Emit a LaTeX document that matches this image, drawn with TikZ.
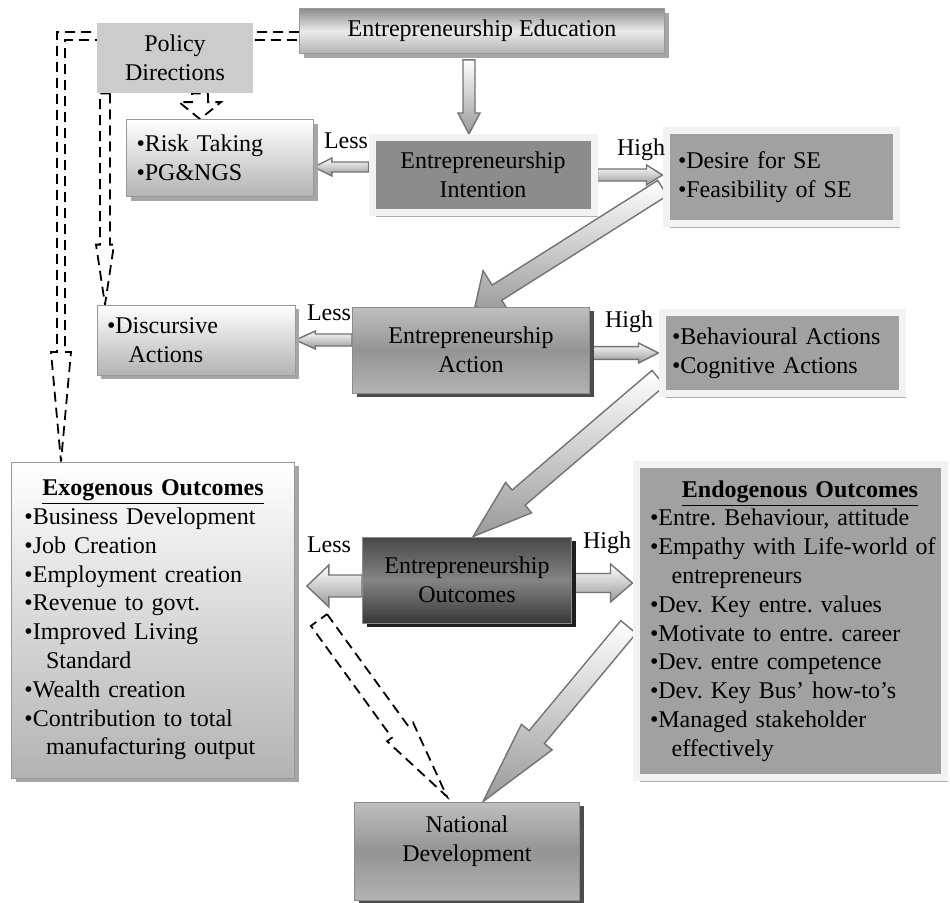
\documentclass[tikz,border=0pt]{standalone}
\usepackage{fontspec}
\setmainfont{Liberation Serif}
\usetikzlibrary{calc,shadows,backgrounds}
\frenchspacing

% block arrow: [style]{from}{to}{shaft half width}{head half width}{head length}
\newcommand\blockarrow[6][]{%
  \coordinate (ba-h) at ($(#3)!#6!(#2)$);
  \path[#1] ($(#2)!#4!90:(#3)$) -- ($(ba-h)!#4!90:(#3)$) -- ($(ba-h)!#5!90:(#3)$)
    -- (#3) -- ($(ba-h)!#5!-90:(#3)$) -- ($(ba-h)!#4!-90:(#3)$) -- ($(#2)!#4!-90:(#3)$) -- cycle;
}

\begin{document}
\begin{tikzpicture}[
        x=0.5pt, y=-0.5pt,
        font=\fontsize{12}{14.4}\selectfont,
        boxshadow/.style={drop shadow={shadow xshift=2pt, shadow yshift=-2pt, fill=black!#1, opacity=1}},
        lightbox/.style={rectangle, draw=black!40, top color=white, bottom color=black!30, boxshadow=35, align=left},
        framebox/.style={rectangle, draw=black!5, line width=3.5pt, fill=black!37, boxshadow=30},
        midbox/.style={rectangle, draw=black!45, top color=black!25, bottom color=black!30, middle color=black!42, boxshadow=70, align=center},
        darkbox/.style={rectangle, draw=black!45, top color=black!72, bottom color=black!78, middle color=black!48, boxshadow=88, align=center},
        edubox/.style={rectangle, draw=black!40, top color=black!45, bottom color=black!30, middle color=black!8, boxshadow=35},
        grayarrow/.style={draw=black!55, line width=0.7pt, top color=white, bottom color=black!40},
        darrow/.style={draw, line width=0.9pt, dash pattern=on 5pt off 3pt}
    ]
        \useasboundingbox (0,0) rectangle (950,902);

        % Top row
        \node[edubox, minimum width=182.5pt, minimum height=22.5pt] (edu) at (482,31) {Entrepreneurship Education};
        \node[fill=black!20, minimum width=78pt, minimum height=35pt, align=center] (policy) at (175,58) {Policy\\Directions};

        % Intention row
        \node[lightbox, minimum height=38.5pt, text width=83.5pt, inner xsep=5pt] (risk) at (220,158) {\textbullet Risk Taking\\\textbullet PG\&NGS};
        \node[framebox, fill=black!45, minimum width=111pt, minimum height=37.5pt, align=center] (intent) at (483,175) {Entrepreneurship\\Intention};
        \node[framebox, minimum height=46.5pt, text width=103pt, inner xsep=6pt, align=left] (desire) at (781,177) {\textbullet Desire for SE\\\textbullet Feasibility of SE};

        % Action row
        \node[lightbox, minimum height=35pt, text width=89pt, inner xsep=5pt] (disc) at (196,340) {\textbullet Discursive\\\hspace*{0.9em}Actions};
        \node[midbox, minimum width=118.5pt, minimum height=43pt] (action) at (471,350) {Entrepreneurship\\Action};
        \node[framebox, minimum height=40.5pt, text width=110pt, inner xsep=5pt, align=left] (behav) at (782,353) {\textbullet Behavioural Actions\\\textbullet Cognitive Actions};

        % Outcomes row
        \node[lightbox, minimum height=158pt, text width=128.5pt, inner xsep=6.5pt] (exo) at (153,620) {%
            \centerline{\underline{\textbf{Exogenous Outcomes}}}
            \textbullet Business Development\\
            \textbullet Job Creation\\
            \textbullet Employment creation\\
            \textbullet Revenue to govt.\\
            \textbullet Improved Living\\
            \hspace*{0.9em}Standard\\
            \textbullet Wealth creation\\
            \textbullet Contribution to total\\
            \hspace*{0.9em}manufacturing output};
        \node[darkbox, minimum width=104.5pt, minimum height=43pt] (outc) at (467,580) {Entrepreneurship\\Outcomes};
        \node[framebox, minimum height=156.5pt, text width=150pt, inner xsep=2pt, align=left] (endo) at (790,621) {%
            \centerline{\underline{\textbf{Endogenous Outcomes}}}
            \leftskip=5pt
            \textbullet Entre. Behaviour, attitude\\
            \textbullet Empathy with Life-world of\\
            \hspace*{0.9em}entrepreneurs\\
            \textbullet Dev. Key entre. values\\
            \textbullet Motivate to entre. career\\
            \textbullet Dev. entre competence\\
            \textbullet Dev. Key Bus’ how-to’s\\
            \textbullet Managed stakeholder\\
            \hspace*{0.9em}\mbox{}effectively\par};

        % Bottom
        \node[midbox, minimum width=112.5pt, minimum height=49pt] (nat) at (467,851) {National\\Development\\[-6pt]\strut};

        % Less / High labels
        \node[inner sep=0pt] (less1) at (346,141) {Less};
        \node[inner sep=0pt] (high1) at (641,150) {High};
        \node[inner sep=0pt] (less2) at (329,313) {Less};
        \node[inner sep=0pt] (high2) at (629,322) {High};
        \node[inner sep=0pt] (less3) at (329,545) {Less};
        \node[inner sep=0pt] (high3) at (607,543) {High};

        \begin{scope}[on background layer]
            % Policy feedback (dashed)
            \coordinate (pd) at (61,36);
            \draw[darrow] ($(edu.west)+(0,1)$) -- ($(pd)+(-4,-4)$) -- ($(pd)+(-4,316)$) -- ($(pd)+(-10,316)$)
                -- (exo.north -| pd) -- ($(pd)+(10,316)$) -- ($(pd)+(4,316)$) -- ($(pd)+(4,4)$) -- ($(edu.west)+(0,9)$);
            \coordinate (p2s) at ($(policy.south)+(25,0)$);
            \coordinate (p2e) at (risk.north -| p2s);
            \blockarrow[darrow]{p2s}{p2e}{4pt}{10.5pt}{8.5pt}
            \coordinate (p3s) at ($(policy.south)+(-70,0)$);
            \coordinate (p3e) at (disc.north -| p3s);
            \blockarrow[darrow]{p3s}{p3e}{2.5pt}{4.5pt}{30pt}
            \coordinate (q1) at (319,620);
            \coordinate (q2) at ($(nat.north)+(-20,-5)$);
            \blockarrow[darrow]{q1}{q2}{5pt}{8pt}{40pt}

            % Education to intention
            \coordinate (a1s) at ($(edu.south)+(-13,6)$);
            \coordinate (a1e) at (intent.north -| a1s);
            \blockarrow[grayarrow]{a1s}{a1e}{3pt}{5.5pt}{10.5pt}

            % Intention branches
            \coordinate (a2s) at ($(intent.west)+(0,-8)$);
            \coordinate (a2e) at (risk.east |- a2s);
            \blockarrow[grayarrow]{a2s}{a2e}{2.5pt}{4.5pt}{9pt}
            \coordinate (a3s) at (intent.east);
            \coordinate (a3e) at (desire.west |- a3s);
            \blockarrow[grayarrow]{a3s}{a3e}{3pt}{5pt}{8pt}
            \coordinate (a4s) at ($(desire.west)+(0,11)$);
            \coordinate (a4e) at ($(action.north)+(4,0)$);
            \blockarrow[grayarrow]{a4s}{a4e}{4.5pt}{13pt}{13pt}

            % Action branches
            \coordinate (a5s) at ($(action.west)+(0,-10)$);
            \coordinate (a5e) at (disc.east |- a5s);
            \blockarrow[grayarrow]{a5s}{a5e}{3pt}{4.5pt}{10pt}
            \coordinate (a6s) at ($(action.east)+(0,3)$);
            \coordinate (a6e) at (behav.west |- a6s);
            \blockarrow[grayarrow]{a6s}{a6e}{3.2pt}{5pt}{10pt}
            \coordinate (a7s) at ($(behav.west)+(0,25)$);
            \coordinate (a7e) at ($(outc.north)+(6,0)$);
            \blockarrow[grayarrow]{a7s}{a7e}{5pt}{10pt}{30pt}

            % Outcomes branches
            \coordinate (a8s) at ($(outc.west)+(0,6)$);
            \coordinate (a8e) at ($(exo.east |- a8s)+(12,0)$);
            \blockarrow[grayarrow]{a8s}{a8e}{5.5pt}{10.5pt}{11pt}
            \coordinate (a9s) at ($(outc.east)+(0,3)$);
            \coordinate (a9e) at (endo.west |- a9s);
            \blockarrow[grayarrow]{a9s}{a9e}{4.75pt}{9.5pt}{11pt}
            \coordinate (a10s) at ($(endo.west)+(-4,6)$);
            \coordinate (a10e) at ($(nat.north)+(16,0)$);
            \blockarrow[grayarrow]{a10s}{a10e}{5pt}{10pt}{42pt}
        \end{scope}
    \end{tikzpicture}
\end{document}
